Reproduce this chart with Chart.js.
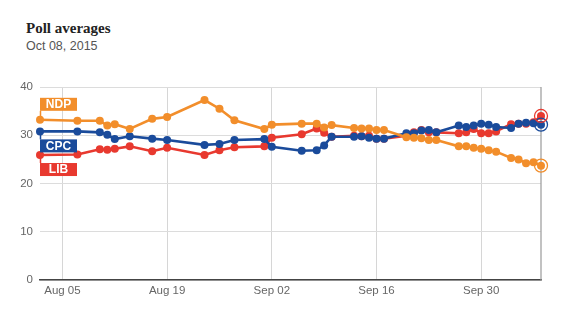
<!DOCTYPE html>
<html>
<head>
<meta charset="utf-8">
<script src="https://cdn.jsdelivr.net/npm/chart.js@4/dist/chart.umd.min.js"></script>
<style>
  html, body { margin: 0; padding: 0; background: #fff; }
  .wrap { position: relative; width: 570px; height: 320px; }
  .title { position: absolute; left: 26px; top: 20px; font: bold 15px "Liberation Serif", serif; color: #222; }
  .subtitle { position: absolute; left: 26px; top: 39px; font: 12.5px "Liberation Sans", Arial, sans-serif; color: #555; }
  canvas { position: absolute; left: 0; top: 0; }
</style>
</head>
<body>
<div class="wrap">
  <div class="title">Poll averages</div>
  <div class="subtitle">Oct 08, 2015</div>
  <canvas id="pollChart" width="570" height="320"></canvas>
</div>
<script>
// ===================== Data =====================
const dates = [
  'Aug 02', 'Aug 07', 'Aug 10', 'Aug 11', 'Aug 12', 'Aug 14', 'Aug 17', 'Aug 19',
  'Aug 24', 'Aug 26', 'Aug 28', 'Sep 01', 'Sep 02', 'Sep 06', 'Sep 08', 'Sep 09',
  'Sep 10', 'Sep 13', 'Sep 14', 'Sep 15', 'Sep 16', 'Sep 17', 'Sep 20', 'Sep 21',
  'Sep 22', 'Sep 23', 'Sep 24', 'Sep 27', 'Sep 28', 'Sep 29', 'Sep 30', 'Oct 01',
  'Oct 02', 'Oct 04', 'Oct 05', 'Oct 06', 'Oct 07', 'Oct 08'
];
const ndp = [
  33.2, 33.0, 33.0, 32.0, 32.3, 31.3, 33.4, 33.8,
  37.3, 35.5, 33.1, 31.3, 32.2, 32.4, 32.4, 31.6,
  32.1, 31.5, 31.4, 31.4, 31.1, 31.1, 29.6, 29.5,
  29.4, 29.0, 29.0, 27.7, 27.7, 27.4, 27.2, 26.9,
  26.6, 25.3, 25.0, 24.2, 24.4, 23.7
];
const cpc = [
  30.8, 30.8, 30.6, 30.1, 29.2, 29.8, 29.3, 29.0,
  28.0, 28.2, 29.0, 29.2, 27.6, 26.8, 26.9, 27.9,
  29.7, 29.7, 29.8, 29.5, 29.3, 29.3, 30.4, 30.4,
  31.0, 31.1, 30.6, 32.0, 31.7, 32.0, 32.4, 32.2,
  31.7, 31.5, 32.4, 32.6, 32.5, 32.2
];
const lib = [
  25.9, 26.0, 27.1, 27.0, 27.2, 27.7, 26.7, 27.4,
  25.9, 26.9, 27.5, 27.7, 29.5, 30.2, 31.4, 30.5,
  29.7, 29.9, 29.8, 29.9, 29.3, 29.3, 29.9, 30.6,
  31.1, 30.6, 30.6, 30.4, 30.6, 31.3, 30.4, 30.4,
  30.8, 32.3, 32.4, 32.4, 32.7, 34.0
];
const tickDates = ['Aug 05', 'Aug 19', 'Sep 02', 'Sep 16', 'Sep 30'];
const yTicks = [0, 10, 20, 30, 40];

// ===================== Helpers =====================
const MONTHS = { Aug: 7, Sep: 8, Oct: 9 };
function dayNum(label) {
  const [m, d] = label.split(' ');
  return Date.UTC(2015, MONTHS[m], +d) / 86400000;
}
function toPoints(values) {
  return values.map((v, i) => ({ x: dayNum(dates[i]), y: v }));
}
const tickDays = tickDates.map(dayNum);

const COLORS = { ndp: '#f28e2b', cpc: '#1a4b9b', lib: '#e8392f' };

function series(label, values, color, side) {
  return {
    label: label,
    data: toPoints(values),
    borderColor: color,
    backgroundColor: color,
    borderWidth: 2.6,
    pointRadius: 4,
    pointHoverRadius: 4,
    pointBorderWidth: 0,
    tension: 0,
    clip: false,
    tagSide: side
  };
}

// ===================== Plugins =====================
const seriesTags = {
  id: 'seriesTags',
  afterDatasetsDraw(chart) {
    const ctx = chart.ctx;
    chart.data.datasets.forEach((ds, i) => {
      const meta = chart.getDatasetMeta(i);
      const first = meta.data[0];
      const last = meta.data[meta.data.length - 1];
      const w = 37, h = 13, gap = 9;
      const top = ds.tagSide === 'above' ? first.y - gap - h : first.y + gap - 1;
      ctx.save();
      // connector
      ctx.strokeStyle = ds.borderColor;
      ctx.lineWidth = 1.5;
      ctx.beginPath();
      ctx.moveTo(first.x + 0.5, first.y);
      ctx.lineTo(first.x + 0.5, ds.tagSide === 'above' ? top + h : top);
      ctx.stroke();
      // box
      ctx.fillStyle = ds.borderColor;
      ctx.fillRect(first.x, top, w, h);
      ctx.fillStyle = '#fff';
      ctx.font = 'bold 12px "Liberation Sans", Arial, sans-serif';
      ctx.textAlign = 'center';
      ctx.textBaseline = 'middle';
      ctx.fillText(ds.label, first.x + w / 2, top + h / 2 + 0.5);
      // ring on last point
      ctx.strokeStyle = ds.borderColor;
      ctx.lineWidth = 1.3;
      ctx.beginPath();
      ctx.arc(last.x, last.y, 6.5, 0, Math.PI * 2);
      ctx.stroke();
      ctx.restore();
    });
  }
};

const rightEdge = {
  id: 'rightEdge',
  beforeDatasetsDraw(chart) {
    const { ctx, chartArea } = chart;
    ctx.save();
    ctx.strokeStyle = '#999';
    ctx.lineWidth = 1.2;
    ctx.beginPath();
    ctx.moveTo(chartArea.right, chartArea.top);
    ctx.lineTo(chartArea.right, chartArea.bottom);
    ctx.stroke();
    ctx.restore();
  }
};

// ===================== Chart Setup =====================
function setupChart() {
  new Chart(document.getElementById('pollChart').getContext('2d'), {
    type: 'line',
    data: {
      datasets: [
        series('NDP', ndp, COLORS.ndp, 'above'),
        series('CPC', cpc, COLORS.cpc, 'below'),
        series('LIB', lib, COLORS.lib, 'below')
      ]
    },
    options: {
      responsive: false,
      animation: false,
      layout: { padding: { left: 0, top: 87, right: 29, bottom: 0 } },
      plugins: {
        legend: { display: false },
        tooltip: { enabled: false }
      },
      scales: {
        x: {
          type: 'linear',
          min: dayNum(dates[0]),
          max: dayNum(dates[dates.length - 1]),
          afterBuildTicks: scale => { scale.ticks = tickDays.map(v => ({ value: v })); },
          afterFit: scale => { scale.height = 40; },
          grid: { color: '#d6d6d6', lineWidth: 1, drawTicks: false },
          border: { color: '#444', width: 1.5 },
          ticks: {
            padding: 4,
            color: '#666',
            font: { family: '"Liberation Sans", Arial, sans-serif', size: 11.5 },
            callback: v => tickDates[tickDays.indexOf(v)]
          }
        },
        y: {
          min: 0,
          max: 40,
          afterBuildTicks: scale => { scale.ticks = yTicks.map(v => ({ value: v })); },
          afterFit: scale => { scale.width = 40; },
          grid: { color: '#dcdcdc', lineWidth: 1, drawTicks: false },
          border: { display: false },
          ticks: {
            padding: 7,
            color: '#666',
            font: { family: '"Liberation Sans", Arial, sans-serif', size: 11.5 }
          }
        }
      }
    },
    plugins: [rightEdge, seriesTags]
  });
}

document.addEventListener('DOMContentLoaded', setupChart);
</script>
</body>
</html>
